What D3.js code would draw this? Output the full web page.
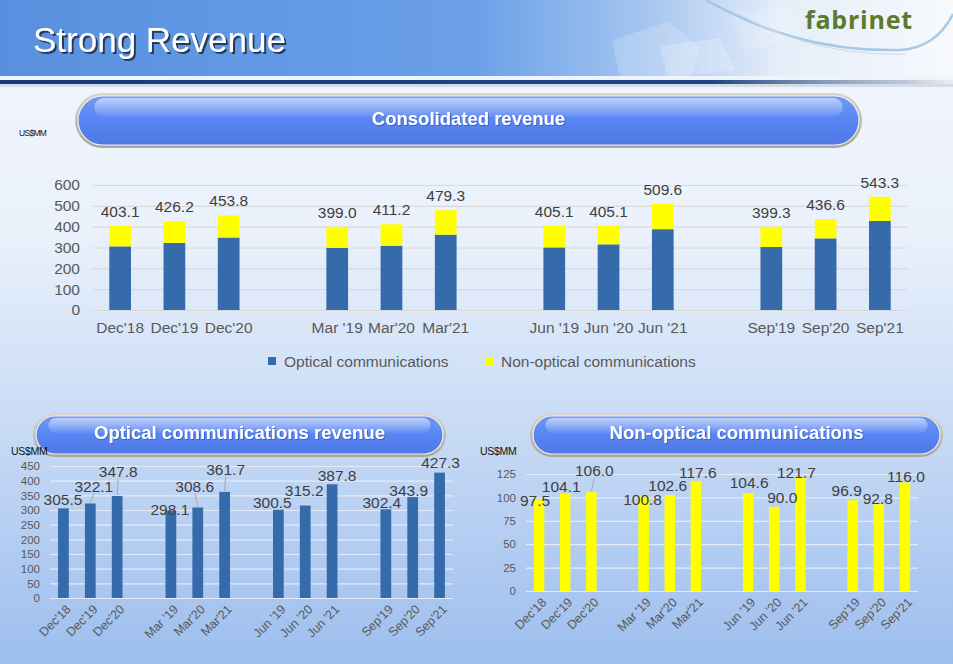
<!DOCTYPE html>
<html>
<head>
<meta charset="utf-8">
<script src="https://cdn.jsdelivr.net/npm/d3@7"></script>
<style>
  html, body { margin: 0; padding: 0; }
  body { width: 953px; height: 664px; overflow: hidden; font-family: "Liberation Sans", Arial, sans-serif; }
</style>
</head>
<body>
<div id="slide"></div>
<script>
// periods, in slide order (groups of three, one blank slot between groups)
const periods = ["Dec'18", "Dec'19", "Dec'20", "Mar '19", "Mar'20", "Mar'21",
                 "Jun '19", "Jun '20", "Jun '21", "Sep'19", "Sep'20", "Sep'21"];
const optical = [305.5, 322.1, 347.8, 298.1, 308.6, 361.7, 300.5, 315.2, 387.8, 302.4, 343.9, 427.3];
const nonOptical = [97.5, 104.1, 106.0, 100.8, 102.6, 117.6, 104.6, 90.0, 121.7, 96.9, 92.8, 116.0];
const totals = [403.1, 426.2, 453.8, 399.0, 411.2, 479.3, 405.1, 405.1, 509.6, 399.3, 436.6, 543.3];

const topTicks = [0, 100, 200, 300, 400, 500, 600];
const opticalTicks = [0, 50, 100, 150, 200, 250, 300, 350, 400, 450];
const nonOpticalTicks = [0, 25, 50, 75, 100, 125];

// hand placed data labels on the two small charts [dx, dy from bar top, leader line]
const opticalLabelNudge = [[-0.5, -9, 0], [3.5, -17, 1], [1, -24, 1], [-1, -1, 0], [-3, -21, 1], [1, -22, 1],
                           [-6, -7, 0], [-1, -15, 0], [5, -9, 0], [-4, -7, 0], [-4, -7, 0], [1, -10, 0]];
const nonOpticalLabelNudge = [[-4, 1, 0], [-4, -7, 0], [3, -21, 1], [-1, 3, 0], [-2, -9, 0], [2, -8, 0],
                              [1, -11, 0], [8, -9, 0], [-4, -5, 0], [-6, -10, 0], [-1, -6, 0], [1, -6, 0]];

const BLUE = "#356baa", YELLOW = "#ffff00";
const W = 953, H = 664;

const svg = d3.select("#slide").append("svg").attr("width", W).attr("height", H);
const defs = svg.append("defs");

function linGrad(id, x2, y2, stops) {
  const g = defs.append("linearGradient").attr("id", id)
    .attr("x1", 0).attr("y1", 0).attr("x2", x2).attr("y2", y2);
  stops.forEach(s => g.append("stop").attr("offset", s[0]).attr("stop-color", s[1])
    .attr("stop-opacity", s[2] == null ? 1 : s[2]));
}

linGrad("bg", 0, 1, [[0, "#f4f7fd"], [0.35, "#eaf1fb"], [0.55, "#d3e2f7"], [1, "#9dbeee"]]);
linGrad("hdr", 1, 0, [[0, "#5890df"], [0.5, "#6ba0e8"], [0.68, "#a6c6f0"], [0.82, "#e6eef9"], [1, "#f7f9fd"]]);
linGrad("navy", 1, 0, [[0, "#163a7a"], [0.75, "#1f4684"], [0.95, "#9aa8bc", 0.6], [1, "#c0c8d4", 0.2]]);
linGrad("pillRim", 0, 1, [[0, "#d9d6c6"], [1, "#a9a590"]]);
linGrad("pillBody", 0, 1, [[0, "#7199f5"], [0.5, "#5885f4"], [1, "#4f79e4"]]);
linGrad("pillGloss", 0, 1, [[0, "#ffffff", 0.55], [1, "#ffffff", 0.05]]);

defs.append("filter").attr("id", "titleShadow").attr("x", "-5%").attr("y", "-20%")
  .attr("width", "110%").attr("height", "140%")
  .append("feDropShadow").attr("dx", 2).attr("dy", 2).attr("stdDeviation", 0.6)
  .attr("flood-color", "#1e2a40").attr("flood-opacity", 0.85);
defs.append("filter").attr("id", "pillShadow").attr("x", "-5%").attr("y", "-20%")
  .attr("width", "110%").attr("height", "140%")
  .append("feDropShadow").attr("dx", 1).attr("dy", 1).attr("stdDeviation", 0.5)
  .attr("flood-color", "#2a4a9c").attr("flood-opacity", 0.6);

// slide background
svg.append("rect").attr("width", W).attr("height", H).attr("fill", "url(#bg)");

// header banner
svg.append("rect").attr("width", W).attr("height", 80).attr("fill", "url(#hdr)");
const deco = svg.append("g").attr("fill", "#ffffff");
deco.append("path").attr("d", "M612,40 L668,22 L700,48 L690,78 L620,78 Z").attr("fill-opacity", 0.18);
deco.append("path").attr("d", "M660,46 L720,38 L735,70 L668,78 Z").attr("fill-opacity", 0.22);
deco.append("path").attr("d", "M730,12 L790,8 L800,40 L745,50 Z").attr("fill-opacity", 0.14);
svg.append("path").attr("d", "M706,0 C760,30 820,52 900,50 C930,48 945,30 953,14")
  .attr("fill", "none").attr("stroke", "#9fc3e6").attr("stroke-width", 2.5).attr("opacity", 0.9);
svg.append("path").attr("d", "M716,0 C770,36 830,56 905,54")
  .attr("fill", "none").attr("stroke", "#c8dcef").attr("stroke-width", 1.2);
svg.append("rect").attr("x", 0).attr("y", 76).attr("width", W).attr("height", 4).attr("fill", "#eef4fb");
svg.append("rect").attr("x", 0).attr("y", 80).attr("width", W).attr("height", 4).attr("fill", "url(#navy)");
svg.append("rect").attr("x", 0).attr("y", 84).attr("width", W).attr("height", 3).attr("fill", "#c4ccd8").attr("opacity", 0.6);

svg.append("text").attr("x", 33).attr("y", 52)
  .attr("fill", "#ffffff").attr("font-size", 35).attr("filter", "url(#titleShadow)")
  .text("Strong Revenue");

svg.append("text").attr("x", 913).attr("y", 29).attr("text-anchor", "end")
  .attr("fill", "#5a7a2d").attr("font-family", "'Open Sans', sans-serif")
  .attr("font-weight", 700).attr("font-size", 25).attr("letter-spacing", 0.8)
  .text("fabrinet");

// rounded section headers
function pill(x, y, w, h, label) {
  const g = svg.append("g");
  g.append("rect").attr("x", x).attr("y", y).attr("width", w).attr("height", h)
    .attr("rx", h / 2).attr("fill", "url(#pillRim)");
  g.append("rect").attr("x", x + 3).attr("y", y + 3).attr("width", w - 6).attr("height", h - 6)
    .attr("rx", (h - 6) / 2).attr("fill", "url(#pillBody)").attr("stroke", "#e8eeff").attr("stroke-width", 1.2);
  g.append("rect").attr("x", x + h * 0.35).attr("y", y + 5).attr("width", w - h * 0.7).attr("height", h * 0.34)
    .attr("rx", h * 0.17).attr("fill", "url(#pillGloss)");
  g.append("text").attr("x", x + w / 2).attr("y", y + h / 2 + 4)
    .attr("text-anchor", "middle").attr("fill", "#ffffff").attr("filter", "url(#pillShadow)")
    .attr("font-weight", 700).attr("font-size", 18.5).text(label);
}

// one slot per period plus a blank slot between the groups of three
const slotOf = i => i + Math.floor(i / 3);
const slots = d3.range(periods.length + 3);

function bandScale(x0, x1) {
  return d3.scaleBand().domain(slots).range([x0, x1]).paddingInner(0.6).paddingOuter(0.3);
}

function grid(g, y, ticks, x0, x1, color) {
  g.append("g").attr("transform", `translate(${x0},0)`)
    .call(d3.axisLeft(y).tickValues(ticks).tickSize(-(x1 - x0)).tickFormat(""))
    .call(a => a.select(".domain").remove())
    .call(a => a.selectAll("line").attr("stroke", color).attr("stroke-width", 1.2));
}

function yLabels(g, y, ticks, xr, size) {
  g.append("g").attr("transform", `translate(${xr},0)`)
    .call(d3.axisLeft(y).tickValues(ticks).tickSize(0).tickPadding(0))
    .call(a => a.select(".domain").remove())
    .call(a => a.selectAll("text").attr("fill", "#595959")
      .attr("font-family", "'Liberation Sans', Arial, sans-serif").attr("font-size", size));
}

// ---------- consolidated revenue (stacked) ----------
pill(75, 93, 787, 55, "Consolidated revenue");
svg.append("text").attr("x", 19).attr("y", 136).attr("font-size", 8.5).attr("letter-spacing", -0.7)
  .attr("fill", "#111").text("US$MM");

const mainChart = svg.append("g");
const xT = bandScale(93, 907);
const yT = d3.scaleLinear().domain([0, 600]).range([310, 185]);
grid(mainChart, yT, topTicks, 93, 907, "#d9d9d9");
yLabels(mainChart, yT, topTicks, 80, 15.5);

const rows = periods.map((p, i) => ({ period: p, i, optical: optical[i], nonOptical: nonOptical[i] }));
const stacked = d3.stack().keys(["optical", "nonOptical"])(rows);
const colorOf = { optical: BLUE, nonOptical: YELLOW };

mainChart.selectAll("g.layer").data(stacked).join("g").attr("class", "layer")
  .attr("fill", d => colorOf[d.key])
  .selectAll("rect").data(d => d).join("rect")
  .attr("x", d => xT(slotOf(d.data.i)))
  .attr("width", xT.bandwidth())
  .attr("y", d => yT(d[1]))
  .attr("height", d => yT(d[0]) - yT(d[1]));

mainChart.selectAll("text.total").data(totals).join("text").attr("class", "total")
  .attr("x", (d, i) => xT(slotOf(i)) + xT.bandwidth() / 2)
  .attr("y", (d, i) => yT(optical[i] + nonOptical[i]) - 9)
  .attr("text-anchor", "middle").attr("fill", "#404040").attr("font-size", 15.5)
  .text(d => d.toFixed(1));

mainChart.selectAll("text.cat").data(periods).join("text").attr("class", "cat")
  .attr("x", (d, i) => xT(slotOf(i)) + xT.bandwidth() / 2)
  .attr("y", 333)
  .attr("text-anchor", "middle").attr("fill", "#595959").attr("font-size", 15.5)
  .text(d => d);

const legend = mainChart.append("g");
[["Optical communications", BLUE, 268], ["Non-optical communications", YELLOW, 485]].forEach(([t, c, x]) => {
  legend.append("rect").attr("x", x).attr("y", 357).attr("width", 8).attr("height", 8).attr("fill", c);
  legend.append("text").attr("x", x + 16).attr("y", 366.5).attr("fill", "#595959")
    .attr("font-size", 15.5).text(t);
});

// ---------- small single-series charts ----------
function smallChart(opt) {
  const g = svg.append("g");
  const x = bandScale(opt.x0, opt.x1);
  const y = d3.scaleLinear().domain(opt.domain).range([opt.y0, opt.y1]);
  grid(g, y, opt.ticks, opt.x0, opt.x1, "#e4ebf5");
  yLabels(g, y, opt.ticks, opt.x0 - 10, 11.5);

  const cx = i => x(slotOf(i)) + x.bandwidth() / 2;

  g.selectAll("rect.bar").data(opt.values).join("rect").attr("class", "bar")
    .attr("x", (d, i) => x(slotOf(i)))
    .attr("width", x.bandwidth())
    .attr("y", d => y(d))
    .attr("height", d => y(0) - y(d))
    .attr("fill", opt.color);

  opt.values.forEach((d, i) => {
    const n = opt.nudge[i];
    if (!n[2]) return;
    g.append("line")
      .attr("x1", cx(i) + n[0]).attr("y1", y(d) + n[1] + 7)
      .attr("x2", cx(i)).attr("y2", y(d) - 1)
      .attr("stroke", "#a6a6a6").attr("stroke-width", 1);
  });

  g.selectAll("text.val").data(opt.values).join("text").attr("class", "val")
    .attr("x", (d, i) => cx(i) + opt.nudge[i][0])
    .attr("y", (d, i) => y(d) + opt.nudge[i][1])
    .attr("dy", "0.35em")
    .attr("text-anchor", "middle").attr("fill", "#404040").attr("font-size", 15.5)
    .text(d => d.toFixed(1));

  g.selectAll("text.cat").data(periods).join("text").attr("class", "cat")
    .attr("transform", (d, i) => `translate(${cx(i) + 5},${opt.y0 + 9}) rotate(-45)`)
    .attr("text-anchor", "end").attr("dy", "0.35em")
    .attr("fill", "#595959").attr("font-size", 12.5)
    .text(d => d);

  svg.append("text").attr("x", opt.unitX).attr("y", 455).attr("font-size", 10.5)
    .attr("letter-spacing", -0.3).attr("fill", "#111").text("US$MM");
}

pill(33, 413, 413, 44, "Optical communications revenue");
pill(530, 413, 413, 44, "Non-optical communications");

smallChart({ values: optical, ticks: opticalTicks, domain: [0, 450], x0: 50, x1: 453, y0: 598, y1: 466,
             color: BLUE, nudge: opticalLabelNudge, unitX: 11 });
smallChart({ values: nonOptical, ticks: nonOpticalTicks, domain: [0, 125], x0: 526, x1: 918, y0: 591, y1: 474,
             color: YELLOW, nudge: nonOpticalLabelNudge, unitX: 480 });
</script>
</body>
</html>
